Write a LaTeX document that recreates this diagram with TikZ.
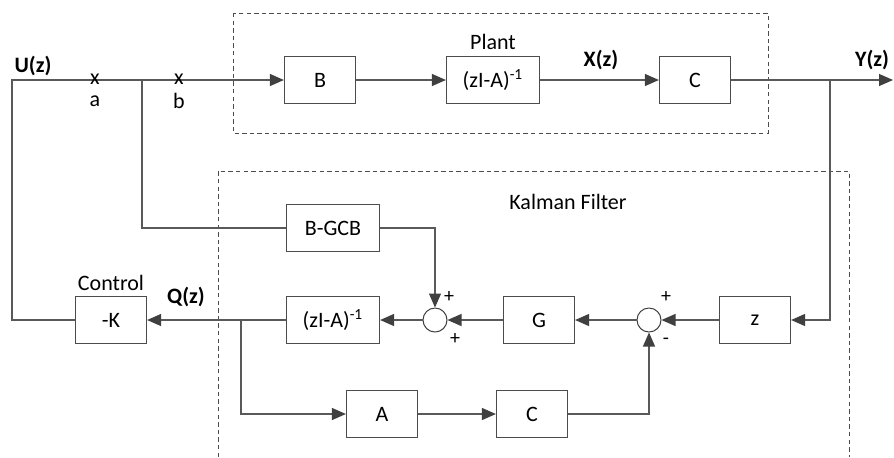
\documentclass[tikz,border=0pt]{standalone}
\usepackage{fontspec}
\setmainfont{Carlito}
\usetikzlibrary{arrows.meta,positioning}

\begin{document}
\begin{tikzpicture}[x=0.5pt, y=-0.5pt,
  font=\fontsize{11}{13}\selectfont,
  blk/.style={draw=black!70, line width=0.6pt, minimum width=35.5pt, minimum height=23.5pt, inner sep=0pt},
  wblk/.style={blk, minimum width=46.5pt},
  sum/.style={draw=black!75, line width=0.5pt, circle, minimum size=12pt, inner sep=0pt},
  wire/.style={draw=black!65, line width=0.6pt},
  sig/.style={wire, -{Triangle[length=7pt,width=6pt,color=black!75,fill=black!75]}},
  lbl/.style={inner sep=0pt},
  bold/.style={lbl, font=\fontsize{11}{13}\selectfont\bfseries},
  sgn/.style={lbl, font=\fontsize{10}{11}\selectfont}]
  \useasboundingbox (0,0) rectangle (894,457);
  % dashed frames
  \draw[black!70, line width=0.5pt, dash pattern=on 2.2pt off 1.6pt] (233,13) rectangle (768,133);
  \draw[black!70, line width=0.5pt, dash pattern=on 2.2pt off 1.6pt] (218,457) -- (218,171) -- (849,171) -- (849,457);
  % plant
  \node[blk] (B) at (320,80) {B};
  \node[wblk] (P) at (493,80) {(zI-A)\textsuperscript{-1}};
  \node[blk] (C) at (695,80) {C};
  \node[lbl] (plant) at (493,42) {Plant};
  % kalman filter
  \node[wblk] (BG) at (333,228) {B-GCB};
  \node[wblk] (L) at (333,320) {(zI-A)\textsuperscript{-1}};
  \node[sum] (s1) at (435,320) {};
  \node[blk] (G) at (539,320) {G};
  \node[sum] (s2) at (649,320) {};
  \node[blk] (Z) at (755,320) {z};
  \node[blk] (A) at (382,414) {A};
  \node[blk] (C2) at (532,414) {C};
  \node[lbl] (kf) at (568,202) {Kalman Filter};
  % control
  \node[blk] (K) at (111,320) {-K};
  \node[lbl] (ctl) at (111,283) {Control};
  % branch points
  \coordinate (uL) at (12,80);
  \coordinate (uB) at (142,80);
  \coordinate (qB) at (241,320);
  \coordinate (yJ) at (830,80);
  \coordinate (yO) at (893,80);
  % connectors
  \draw[sig] (K.west) -- (K.west -| uL) -- (uL) -- (B.west);
  \draw[sig] (B.east) -- (P.west);
  \draw[sig] (P.east) -- (C.west);
  \draw[sig] (C.east) -- (yO);
  \draw[sig] (yJ) |- (Z.east);
  \draw[sig] (Z.west) -- (s2.east);
  \draw[sig] (s2.west) -- (G.east);
  \draw[sig] (G.west) -- (s1.east);
  \draw[sig] (s1.west) -- (L.east);
  \draw[sig] (L.west) -- (K.east);
  \draw[wire] (uB) |- (BG.west);
  \draw[sig] (BG.east) -| (s1.north);
  \draw[sig] (qB) |- (A.west);
  \draw[sig] (A.east) -- (C2.west);
  \draw[sig] (C2.east) -| (s2.south);
  % signal labels
  \node[bold] (U) at (33,66) {U(z)};
  \node[bold] (X) at (601,60) {X(z)};
  \node[bold] (Y) at (872,60) {Y(z)};
  \node[bold] (Q) at (186,297) {Q(z)};
  \node[lbl] (xa) at (95,79) {x};
  \node[lbl] (a) at (95,101) {a};
  \node[lbl] (xb) at (179,79) {x};
  \node[lbl] (b) at (179,101) {b};
  % signs
  \node[sgn] at (449,297) {+};
  \node[sgn] at (455,339) {+};
  \node[sgn] at (666,297) {+};
  \node[sgn] at (666,341) {-};
\end{tikzpicture}
\end{document}
